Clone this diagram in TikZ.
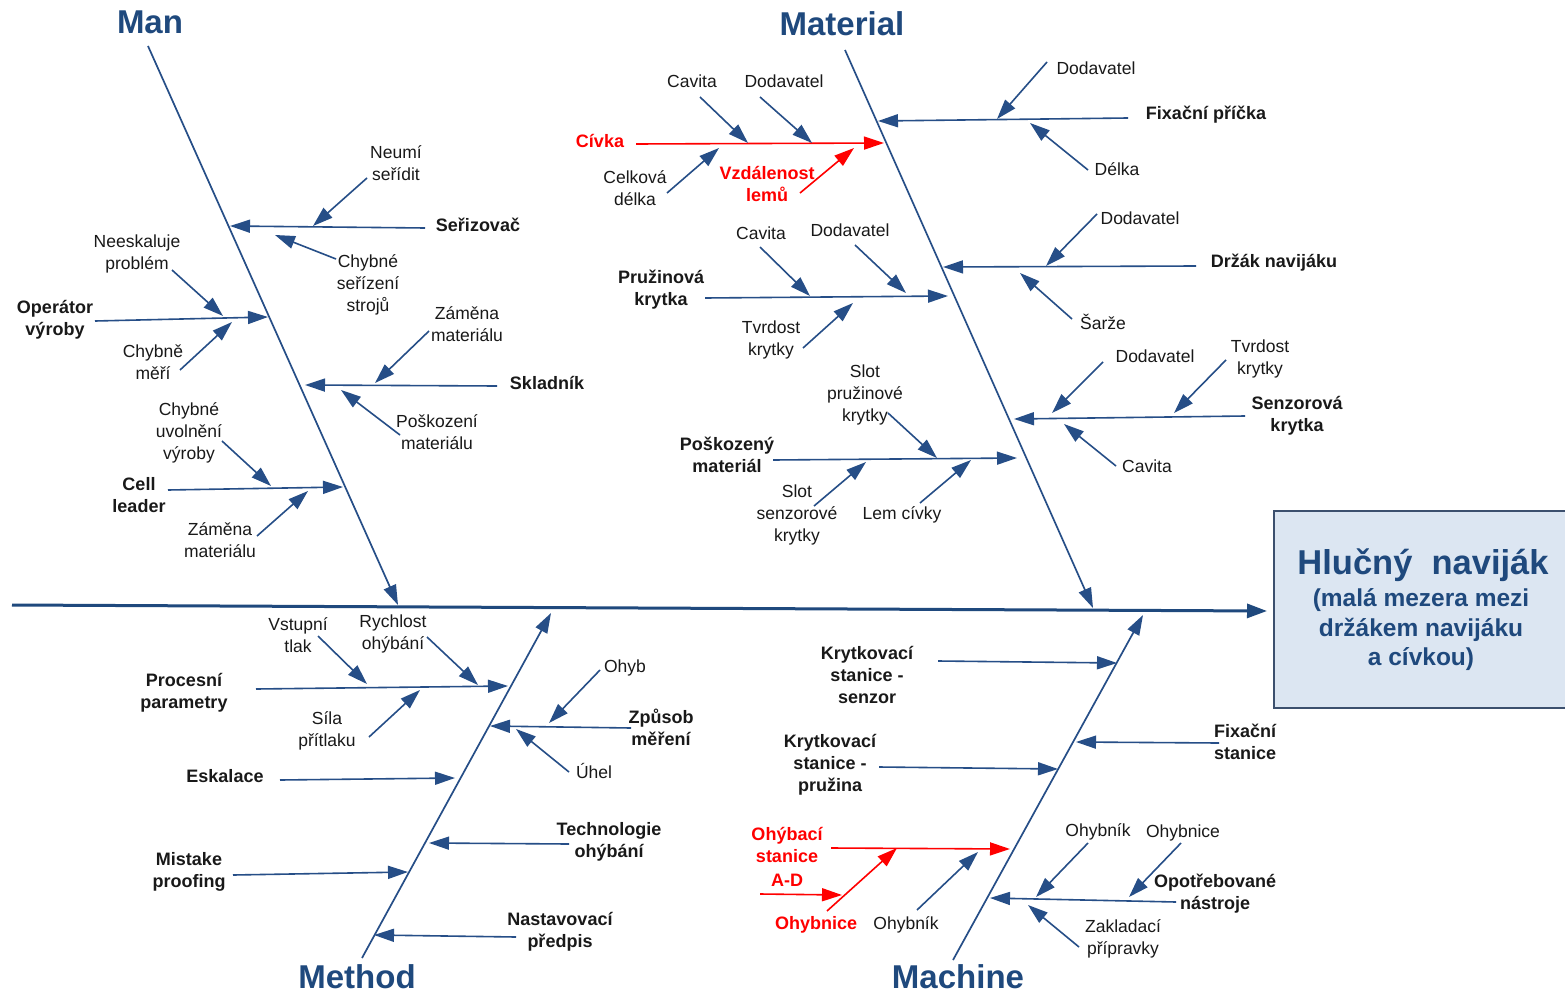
\documentclass[tikz,border=0pt]{standalone}
\usepackage{fontspec}
\setmainfont{Liberation Sans}
\usetikzlibrary{arrows.meta}
\definecolor{lc}{RGB}{38,78,135}
\definecolor{tc}{RGB}{31,73,125}
\definecolor{rc}{RGB}{255,0,0}
\definecolor{boxfill}{RGB}{220,230,242}
\definecolor{boxline}{RGB}{60,80,110}
\definecolor{txt}{RGB}{25,25,25}
\newcommand\fbconn[4][br]{\coordinate (#2a) at (#3); \coordinate (#2b) at (#4); \draw[#1] (#2a) -- (#2b);}
\begin{document}
\begin{tikzpicture}[x=1pt,y=-1pt,
 br/.style={draw=lc,line width=1.6pt,-{Triangle[length=20pt,width=13pt]},fill=lc},
 rbr/.style={draw=rc,line width=1.6pt,-{Triangle[length=20pt,width=13pt]},fill=rc},
 bone/.style={draw=lc,line width=1.7pt,-{Triangle[length=20pt,width=13pt]},fill=lc},
 spine/.style={draw=tc,line width=3pt,-{Triangle[length=20pt,width=14pt]},fill=tc},
 lab/.style={font=\fontsize{17.5}{22}\selectfont,align=center,inner sep=0pt,text=txt},
 blab/.style={font=\bfseries\fontsize{18}{22}\selectfont,align=center,inner sep=0pt,text=txt},
 rlab/.style={blab,text=rc},
 ttl/.style={font=\bfseries\fontsize{33}{38}\selectfont,text=tc,inner sep=0pt}]
\useasboundingbox (0,0) rectangle (1565,995);
\fill[white] (0,0) rectangle (1565,995);
% effect box
\node[draw=boxline,fill=boxfill,line width=1.5pt,minimum width=300pt,minimum height=197pt,anchor=north west,inner sep=0pt] (effbox) at (1273,510) {};
\node[font=\bfseries\fontsize{34.5}{40}\selectfont,text=tc,inner sep=0pt] (effT) at (1423,565) {Hlučný~~naviják};
\node[font=\bfseries\fontsize{24.5}{29.5}\selectfont,text=tc,inner sep=0pt,align=center] (effS) at (1421,630) {(malá mezera mezi\\držákem navijáku\\a cívkou)};
% titles
\node[ttl] (tMan) at (150,22) {Man};
\node[ttl] (tMat) at (842,24) {Material};
\node[ttl] (tMet) at (357,977) {Method};
\node[ttl] (tMac) at (958,977) {Machine};
% spine and bones
\fbconn[spine]{sp}{12,605}{1267,611}
\fbconn[bone]{bMan}{148,46}{398,605}
\fbconn[bone]{bMat}{845,50}{1093,608}
\fbconn[bone]{bMet}{362,958}{551,613}
\fbconn[bone]{bMac}{953,960}{1143,615}
% ---------- Man
\node[blab] (serizovac) at (478,225) {Seřizovač};
\fbconn{mS}{425,228}{230,226}
\node[lab] (neumi) at (396,163) {Neumí\\seřídit};
\fbconn{mSi}{367,178}{313,226}
\node[lab] (chybseri) at (368,285) {Chybné\\seřízení\\strojů};
\fbconn{mSii}{336,259}{275,235}
\node[blab] (operator) at (55,320) {Operátor\\výroby};
\fbconn{mO}{95,321}{268,317}
\node[lab] (neeskal) at (137,254) {Neeskaluje\\problém};
\fbconn{mOi}{172,270}{223,316}
\node[lab] (chybmeri) at (153,362) {Chybně\\měří};
\fbconn{mOii}{180,370}{232,322}
\node[blab] (skladnik) at (547,383) {Skladník};
\fbconn{mK}{497,386}{305,385}
\node[lab] (zamenai) at (467,324) {Záměna\\materiálu};
\fbconn{mKi}{429,331}{375,383}
\node[lab] (poskozeni) at (437,432) {Poškození\\materiálu};
\fbconn{mKii}{400,435}{341,390}
\node[blab] (cell) at (139,495) {Cell\\leader};
\fbconn{mC}{168,490}{343,487}
\node[lab] (uvolneni) at (189,433) {Chybné\\uvolnění\\výroby};
\fbconn{mCi}{222,441}{271,486}
\node[lab] (zamenaii) at (220,540) {Záměna\\materiálu};
\fbconn{mCii}{257,536}{308,491}
% ---------- Material
\node[rlab] (civka) at (600,141) {Cívka};
\fbconn[rbr]{aC}{636,144}{884,143}
\node[lab] (cavitai) at (692,81) {Cavita};
\fbconn{aCi}{700,97}{748,143}
\node[lab] (dodavi) at (784,81) {Dodavatel};
\fbconn{aCii}{760,97}{812,143}
\node[lab] (celkova) at (635,188) {Celková\\délka};
\fbconn{aCiii}{667,193}{719,148}
\node[rlab] (vzdal) at (767,184) {Vzdálenost\\lemů};
\fbconn[rbr]{aCiv}{800,193}{854,148}
\node[blab] (fixpricka) at (1206,115) {Fixační příčka};
\fbconn{aF}{1128,118}{878,121}
\node[lab] (dodavii) at (1096,68) {Dodavatel};
\fbconn{aFi}{1047,62}{997,119}
\node[lab] (delka) at (1117,169) {Délka};
\fbconn{aFii}{1088,170}{1030,123}
\node[blab] (pruzkryt) at (661,290) {Pružinová\\krytka};
\fbconn{aP}{705,298}{948,296}
\node[lab] (cavitaii) at (761,233) {Cavita};
\fbconn{aPi}{760,247}{810,296}
\node[lab] (dodaviii) at (850,230) {Dodavatel};
\fbconn{aPii}{855,245}{906,293}
\node[lab] (tvrdosti) at (771,340) {Tvrdost\\krytky};
\fbconn{aPiii}{803,348}{853,303}
\node[blab] (drzak) at (1274,263) {Držák navijáku};
\fbconn{aD}{1196,266}{943,267}
\node[lab] (dodaviv) at (1140,218) {Dodavatel};
\fbconn{aDi}{1097,214}{1046,266}
\node[lab] (sarze) at (1103,322) {Šarže};
\fbconn{aDii}{1072,319}{1020,273}
\node[blab] (poskmat) at (727,455) {Poškozený\\materiál};
\fbconn{aM}{773,460}{1017,458}
\node[lab] (slotpr) at (865,395) {Slot\\pružinové\\krytky};
\fbconn{aMi}{888,413}{937,458}
\node[lab] (slotsen) at (797,515) {Slot\\senzorové\\krytky};
\fbconn{aMii}{814,506}{866,462}
\node[lab] (lem) at (902,515) {Lem cívky};
\fbconn{aMiii}{920,503}{971,460}
\node[blab] (senzkryt) at (1297,416) {Senzorová\\krytka};
\fbconn{aS}{1245,416}{1014,419}
\node[lab] (dodavv) at (1155,356) {Dodavatel};
\fbconn{aSi}{1103,362}{1052,413}
\node[lab] (tvrdostii) at (1260,359) {Tvrdost\\krytky};
\fbconn{aSii}{1226,360}{1174,413}
\node[lab] (cavitaiii) at (1147,466) {Cavita};
\fbconn{aSiii}{1116,466}{1064,424}
% ---------- Method
\node[blab] (procesni) at (184,693) {Procesní\\parametry};
\fbconn{tP}{256,689}{508,686}
\node[lab] (vstupni) at (298,635) {Vstupní\\tlak};
\fbconn{tPi}{318,636}{367,684}
\node[lab] (rychlost) at (393,634) {Rychlost\\ohýbání};
\fbconn{tPii}{427,637}{478,685}
\node[lab] (sila) at (327,731) {Síla\\přítlaku};
\fbconn{tPiii}{369,737}{420,690}
\node[blab] (zpusob) at (661,727) {Způsob\\měření};
\fbconn{tZ}{631,728}{490,726}
\node[lab] (ohyb) at (625,668) {Ohyb};
\fbconn{tZi}{600,670}{549,723}
\node[lab] (uhel) at (594,771) {Úhel};
\fbconn{tZii}{569,772}{516,729}
\node[blab] (eskalace) at (225,776) {Eskalace};
\fbconn{tE}{280,780}{455,778}
\node[blab] (technol) at (609,842) {Technologie\\ohýbání};
\fbconn{tT}{569,844}{429,843}
\node[blab] (mistake) at (189,872) {Mistake\\proofing};
\fbconn{tM}{233,875}{408,872}
\node[blab] (nastav) at (560,932) {Nastavovací\\předpis};
\fbconn{tN}{516,937}{374,935}
% ---------- Machine
\node[blab] (krytsen) at (867,675) {Krytkovací\\stanice -\\senzor};
\fbconn{cK}{938,661}{1117,663}
\node[blab] (fixstan) at (1245,742) {Fixační\\stanice};
\fbconn{cF}{1219,743}{1076,742}
\node[blab] (krytpru) at (830,765) {Krytkovací\\stanice -\\pružina};
\fbconn{cP}{879,767}{1058,769}
\node[rlab] (ohybaci) at (787,857) {Ohýbací\\stanice\\[2pt]A-D};
\fbconn[rbr]{cO}{831,848}{1010,849}
\fbconn[rbr]{cOi}{760,894}{842,895}
\node[rlab] (ohybnicei) at (816,925) {Ohybnice};
\fbconn[rbr]{cOii}{827,911}{897,848}
\node[lab] (ohybniki) at (906,925) {Ohybník};
\fbconn{cOiii}{917,910}{978,852}
\node[blab] (opotreb) at (1215,894) {Opotřebované\\nástroje};
\fbconn{cN}{1176,902}{990,898}
\node[lab] (ohybnikii) at (1098,832) {Ohybník};
\fbconn{cNi}{1088,843}{1036,897}
\node[lab] (ohybniceii) at (1183,833) {Ohybnice};
\fbconn{cNii}{1181,843}{1129,897}
\node[lab] (zaklad) at (1123,939) {Zakladací\\přípravky};
\fbconn{cNiii}{1079,947}{1028,905}
\end{tikzpicture}
\end{document}
